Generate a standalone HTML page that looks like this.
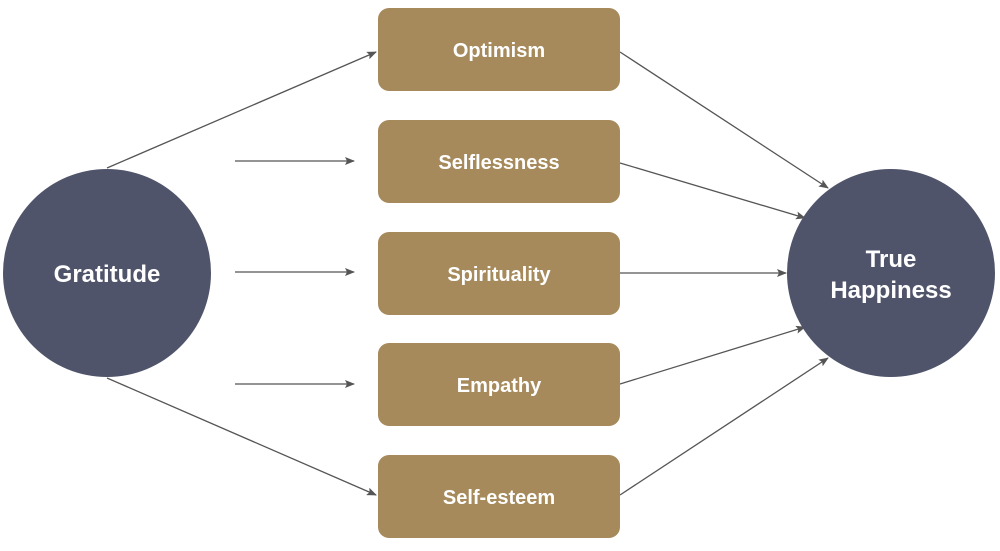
<!DOCTYPE html>
<html><head><meta charset="utf-8"><style>
html,body{margin:0;padding:0;background:#fff;}
svg text{font-family:"Liberation Sans",sans-serif;font-weight:bold;fill:#fff;}
</style></head><body>
<svg width="1000" height="546" viewBox="0 0 1000 546" xmlns="http://www.w3.org/2000/svg">
<defs><marker id="a" markerWidth="10" markerHeight="8" refX="9" refY="4" orient="auto" markerUnits="userSpaceOnUse"><path d="M0,0 L10,4 L0,8 L2,4 Z" fill="#555"/></marker></defs>
<g stroke="#555" stroke-width="1.3" fill="none" marker-end="url(#a)">
<line x1="107" y1="168" x2="376" y2="52"/>
<line x1="235" y1="161" x2="354" y2="161"/>
<line x1="235" y1="272" x2="354" y2="272"/>
<line x1="235" y1="384" x2="354" y2="384"/>
<line x1="107" y1="378" x2="376" y2="495"/>
<line x1="620" y1="52" x2="828" y2="188"/>
<line x1="620" y1="163" x2="805" y2="218"/>
<line x1="620" y1="273" x2="786" y2="273"/>
<line x1="620" y1="384" x2="805" y2="327"/>
<line x1="620" y1="495" x2="828" y2="358"/>
</g>
<circle cx="107" cy="273" r="104" fill="#50546a"/>
<circle cx="891" cy="273" r="104" fill="#50546a"/>
<g fill="#a68a5b">
<rect x="378" y="8" width="242" height="83" rx="11"/>
<rect x="378" y="120" width="242" height="83" rx="11"/>
<rect x="378" y="232" width="242" height="83" rx="11"/>
<rect x="378" y="343" width="242" height="83" rx="11"/>
<rect x="378" y="455" width="242" height="83" rx="11"/>
</g>
<g font-size="20" text-anchor="middle">
<text x="499" y="57">Optimism</text>
<text x="499" y="169">Selflessness</text>
<text x="499" y="281">Spirituality</text>
<text x="499" y="392">Empathy</text>
<text x="499" y="504">Self-esteem</text>
</g>
<g font-size="24" text-anchor="middle">
<text x="107" y="282">Gratitude</text>
<text x="891" y="267">True</text>
<text x="891" y="298">Happiness</text>
</g>
</svg>
</body></html>
